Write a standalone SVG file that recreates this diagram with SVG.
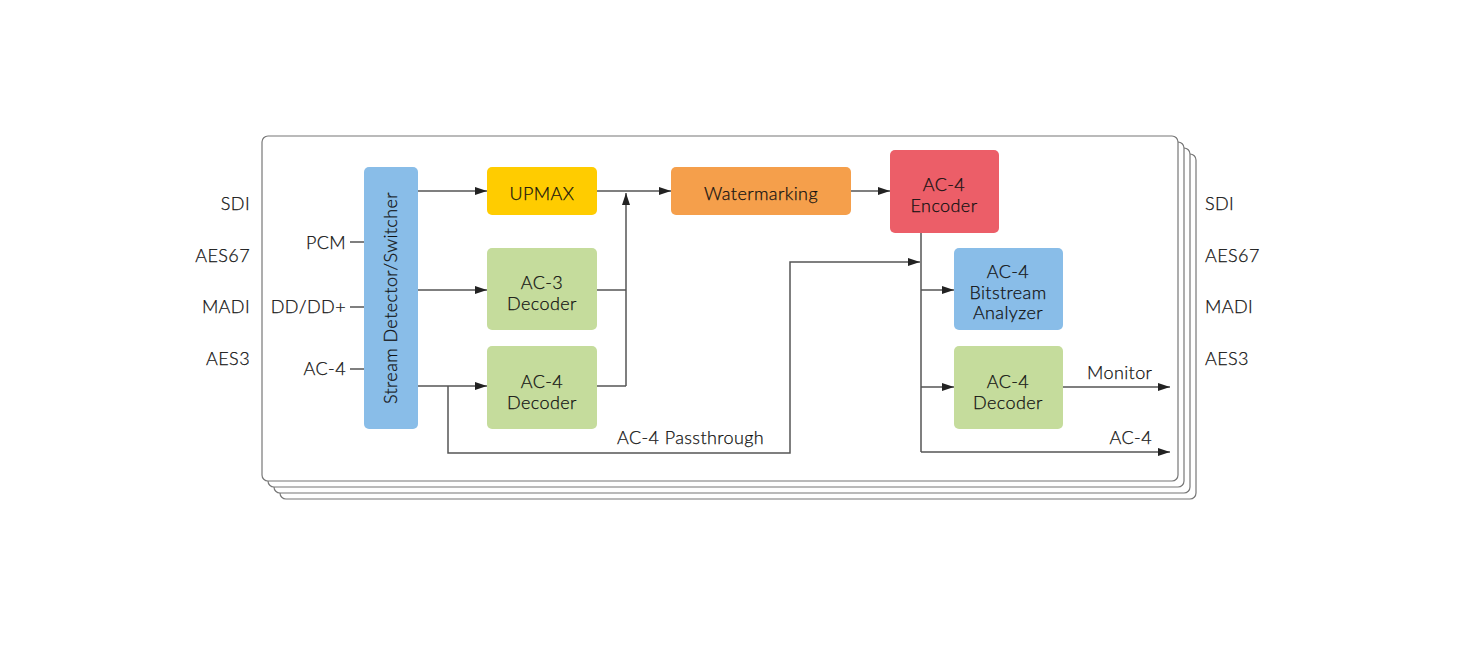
<svg xmlns="http://www.w3.org/2000/svg" width="1472" height="650" viewBox="0 0 1472 650">
<style>
text{font-family:Lato,"Noto Sans",sans-serif;font-size:18px;font-weight:300;letter-spacing:0.4px;fill:#111;stroke:#111;stroke-width:0.25}
.c{text-anchor:middle}
.r{text-anchor:end}
.frame{fill:#fff;stroke:#777;stroke-width:1.2}
.ln{fill:none;stroke:#555;stroke-width:1.5}
.arr{marker-end:url(#ah)}
</style>
<defs>
<marker id="ah" viewBox="0 0 12 8" refX="12" refY="4" markerWidth="12" markerHeight="8" markerUnits="userSpaceOnUse" orient="auto">
<path d="M0,0 L12,4 L0,8 Z" fill="#222"/>
</marker>
</defs>
<rect width="1472" height="650" fill="#fff"/>
<g id="frames">
<rect class="frame" x="280" y="154" width="916" height="345" rx="6"/>
<rect class="frame" x="274" y="148" width="916" height="345" rx="6"/>
<rect class="frame" x="268" y="142" width="916" height="345" rx="6"/>
<rect class="frame" x="262" y="136" width="916" height="345" rx="6"/>
</g>
<g id="labels-left">
<text class="r" x="250" y="210">SDI</text>
<text class="r" x="250" y="262">AES67</text>
<text class="r" x="250" y="313">MADI</text>
<text class="r" x="250" y="365">AES3</text>
</g>
<g id="labels-right">
<text x="1205" y="210">SDI</text>
<text x="1205" y="262">AES67</text>
<text x="1205" y="313">MADI</text>
<text x="1205" y="365">AES3</text>
</g>
<g id="inputs">
<text class="r" x="346" y="249">PCM</text>
<text class="r" x="346" y="313">DD/DD+</text>
<text class="r" x="346" y="375">AC-4</text>
</g>
<g id="connectors">
<path class="ln" d="M350,242 H364 M350,307 H364 M350,369 H364"/>
<path class="ln arr" d="M418,191 H487"/>
<path class="ln arr" d="M418,290 H487"/>
<path class="ln arr" d="M418,386 H487"/>
<path class="ln" d="M597,290 H626 M597,386 H626"/>
<path class="ln arr" d="M626,386 V193"/>
<path class="ln arr" d="M597,191 H671"/>
<path class="ln arr" d="M851,191 H890"/>
<path class="ln arr" d="M448,386 V453 H790 V262 H920"/>
<path class="ln" d="M921,233 V452"/>
<path class="ln arr" d="M921,290 H954"/>
<path class="ln arr" d="M921,387 H954"/>
<path class="ln arr" d="M1063,387 H1170"/>
<path class="ln arr" d="M921,452 H1170"/>
<text x="617" y="444">AC-4 Passthrough</text>
<text x="1087" y="379">Monitor</text>
<text class="r" x="1152" y="444">AC-4</text>
</g>
<g id="stream-detector">
<rect x="364" y="167" width="54" height="262" rx="5" fill="#89bde8"/>
<text class="c" transform="translate(397,298) rotate(-90)">Stream Detector/Switcher</text>
</g>
<g id="upmax">
<rect x="487" y="167" width="110" height="48" rx="5" fill="#ffcc00"/>
<text class="c" x="542" y="200">UPMAX</text>
</g>
<g id="ac3-decoder">
<rect x="487" y="248" width="110" height="82" rx="5" fill="#c5dc9c"/>
<text class="c" x="542" y="289">AC-3</text>
<text class="c" x="542" y="310">Decoder</text>
</g>
<g id="ac4-decoder-in">
<rect x="487" y="346" width="110" height="83" rx="5" fill="#c5dc9c"/>
<text class="c" x="542" y="388">AC-4</text>
<text class="c" x="542" y="409">Decoder</text>
</g>
<g id="watermarking">
<rect x="671" y="167" width="180" height="48" rx="5" fill="#f59f4b"/>
<text class="c" x="761" y="200">Watermarking</text>
</g>
<g id="ac4-encoder">
<rect x="890" y="150" width="109" height="83" rx="5" fill="#ec5e68"/>
<text class="c" x="944" y="191">AC-4</text>
<text class="c" x="944" y="212">Encoder</text>
</g>
<g id="bitstream-analyzer">
<rect x="954" y="248" width="109" height="82" rx="5" fill="#89bde8"/>
<text class="c" x="1008" y="278">AC-4</text>
<text class="c" x="1008" y="299">Bitstream</text>
<text class="c" x="1008" y="319">Analyzer</text>
</g>
<g id="ac4-decoder-out">
<rect x="954" y="346" width="109" height="83" rx="5" fill="#c5dc9c"/>
<text class="c" x="1008" y="388">AC-4</text>
<text class="c" x="1008" y="409">Decoder</text>
</g>
</svg>
